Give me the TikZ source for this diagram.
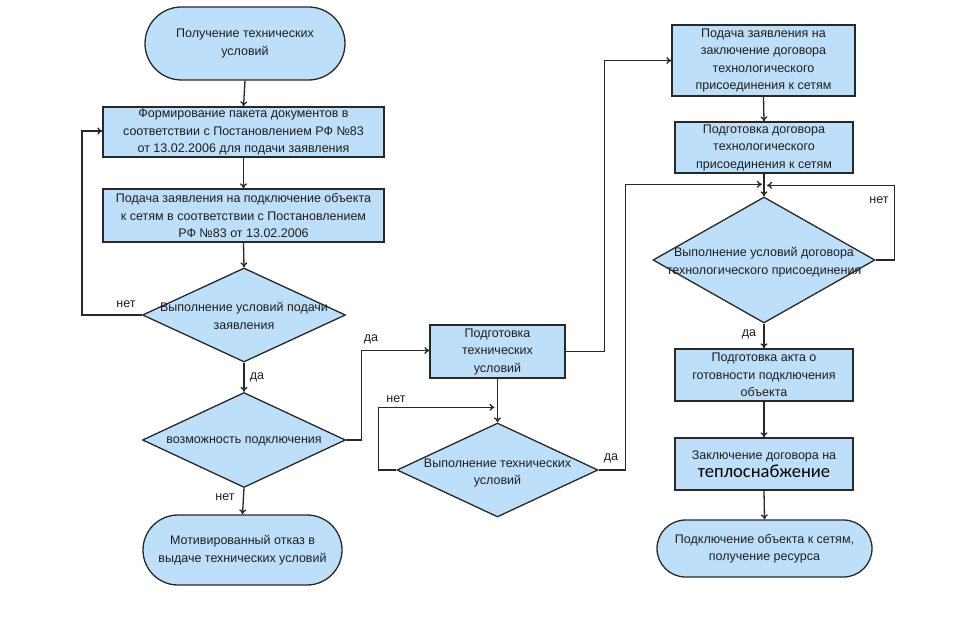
\documentclass[tikz,border=0pt]{standalone}
\usepackage{fontspec}
\setmainfont{Liberation Sans}
\newfontfamily\carlito{Carlito}
\usetikzlibrary{shapes.geometric,shapes.misc,arrows.meta,calc}
\definecolor{boxfill}{RGB}{190,223,250}
\definecolor{edge}{RGB}{40,40,40}
\definecolor{txt}{RGB}{30,30,30}
\tikzset{
  base/.style={draw=edge, line width=1.3pt, fill=boxfill, inner sep=0pt, align=center, text=txt, font=\fontsize{12.5}{17.5}\selectfont},
  procbox/.style={base, rectangle},
  termbox/.style={base, rounded rectangle},
  decbox/.style={base, diamond},
  arr/.style={draw=edge, line width=1.3pt, -{To[length=5pt,width=7pt]}},
  lbl/.style={text=txt, font=\fontsize{12.5}{15}\selectfont, inner sep=0pt}
}
\begin{document}
\begin{tikzpicture}[x=1pt,y=-1pt]
\useasboundingbox (0,0) rectangle (966,628);
% left column
\node[termbox, minimum width=200pt, minimum height=73pt] (t1) at (245,43.5) {Получение технических\\условий};
\node[procbox, minimum width=281pt, minimum height=50pt] (b2) at (243.5,132) {Формирование пакета документов в\\соответствии с Постановлением РФ №83\\от 13.02.2006 для подачи заявления};
\node[procbox, minimum width=281pt, minimum height=53pt] (b3) at (243.5,215.5) {Подача заявления на подключение объекта\\к сетям в соответствии с Постановлением\\РФ №83 от 13.02.2006};
\node[decbox, minimum width=203pt, minimum height=94pt] (d1) at (244,315) {};
\node[lbl, align=center, font=\fontsize{12.5}{17.5}\selectfont] (d1t) at (244,316) {Выполнение условий подачи\\заявления};
\node[decbox, minimum width=203pt, minimum height=95pt] (d2) at (244,440) {};
\node[lbl] (d2t) at (244,441) {возможность подключения};
\node[termbox, minimum width=199pt, minimum height=70pt] (t2) at (242.5,550) {Мотивированный отказ в\\выдаче технических условий};
% middle column
\node[procbox, minimum width=135pt, minimum height=53pt] (b6) at (497.5,351.5) {Подготовка\\технических\\условий};
\node[decbox, minimum width=201pt, minimum height=94pt] (d3) at (497.5,470) {};
\node[lbl, align=center, font=\fontsize{12.5}{17.5}\selectfont] (d3t) at (497.5,473) {Выполнение технических\\условий};
% right column
\node[procbox, minimum width=183pt, minimum height=71pt] (b8) at (763.5,60.5) {Подача заявления на\\заключение договора\\технологического\\присоединения к сетям};
\node[procbox, minimum width=178pt, minimum height=51pt] (b10) at (764,147.5) {Подготовка договора\\технологического\\присоединения к сетям};
\node[decbox, minimum width=222pt, minimum height=126pt] (d4) at (764,260) {};
\node[lbl, align=center, font=\fontsize{12.5}{17.5}\selectfont] (d4t) at (764,262) {Выполнение условий договора\\технологического присоединения};
\node[procbox, minimum width=178pt, minimum height=52pt] (b12) at (764,375) {Подготовка акта о\\готовности подключения\\объекта};
\node[procbox, minimum width=178pt, minimum height=52pt] (b13) at (764,464) {Заключение договора на\\[0pt]{\carlito\fontsize{18.5}{18}\selectfont\color{black}теплоснабжение}};
\node[termbox, minimum width=215pt, minimum height=57pt] (t3) at (764.5,548.5) {Подключение объекта к сетям,\\получение ресурса};
% connectors
\draw[arr] (t1.south) -- (b2.north);
\draw[arr] (b2.south) -- (b3.north);
\draw[arr] (b3.south) -- (d1.north);
\draw[arr] (d1.west) -- +(-60,0) |- ([yshift=1pt]b2.west);
\draw[arr] (d1.south) -- (d2.north);
\draw[arr] (d2.south) -- (t2.north);
\draw[arr] (d2.east) -- +(15,0) |- ([yshift=1pt]b6.west);
\draw[arr] (b6.east) -- +(39,0) |- (b8.west);
\draw[arr] (b6.south) -- (d3.north);
\draw[arr] (d3.west) -- +(-18,0) |- ([xshift=-3pt,yshift=15pt]d3.north);
\draw[arr] (d3.east) -- +(27,0) |- ([xshift=-2pt,yshift=12pt]d4.north);
\draw[arr] (b8.south) -- (b10.north);
\draw[arr] (b10.south) -- (d4.north);
\draw[arr] (d4.east) -- +(19,0) |- ([xshift=3pt,yshift=11pt]d4.north);
\draw[arr] (d4.south) -- (b12.north);
\draw[arr] (b12.south) -- (b13.north);
\draw[arr] (b13.south) -- (t3.north);
% labels
\node[lbl] (l1) at (126,304) {нет};
\node[lbl] (l2) at (257,377) {да};
\node[lbl] (l3) at (371,339) {да};
\node[lbl] (l4) at (225,497) {нет};
\node[lbl] (l5) at (396,399) {нет};
\node[lbl] (l6) at (611,458) {да};
\node[lbl] (l7) at (879,200) {нет};
\node[lbl] (l8) at (749,334) {да};
\end{tikzpicture}
\end{document}
